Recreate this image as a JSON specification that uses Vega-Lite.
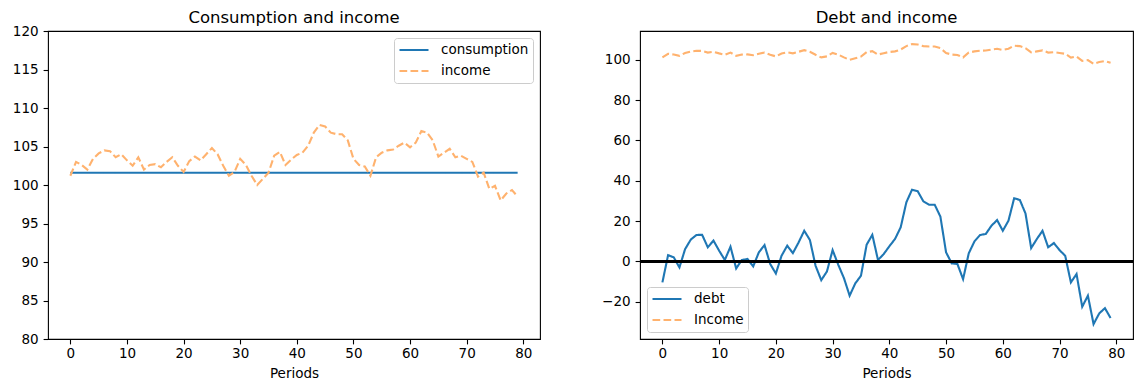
{
  "$schema": "https://vega.github.io/schema/vega-lite/v6.json",
  "padding": {"left": 7, "top": 8, "right": 5, "bottom": 5},
  "background": "white",
  "datasets": {
    "series": [
      {"t": 0, "consumption": 101.6, "income": 101.2, "debt": -10.4},
      {"t": 1, "consumption": 101.6, "income": 103.0, "debt": 3.1},
      {"t": 2, "consumption": 101.6, "income": 102.6, "debt": 2.0},
      {"t": 3, "consumption": 101.6, "income": 102.0, "debt": -3.0},
      {"t": 4, "consumption": 101.6, "income": 103.4, "debt": 6.1},
      {"t": 5, "consumption": 101.6, "income": 104.1, "debt": 10.8},
      {"t": 6, "consumption": 101.6, "income": 104.5, "debt": 13.1},
      {"t": 7, "consumption": 101.6, "income": 104.4, "debt": 13.2},
      {"t": 8, "consumption": 101.6, "income": 103.6, "debt": 7.0},
      {"t": 9, "consumption": 101.6, "income": 104.0, "debt": 10.3},
      {"t": 10, "consumption": 101.6, "income": 103.2, "debt": 5.3},
      {"t": 11, "consumption": 101.6, "income": 102.5, "debt": 0.7},
      {"t": 12, "consumption": 101.6, "income": 103.6, "debt": 7.3},
      {"t": 13, "consumption": 101.6, "income": 102.0, "debt": -3.5},
      {"t": 14, "consumption": 101.6, "income": 102.6, "debt": 0.7},
      {"t": 15, "consumption": 101.6, "income": 102.7, "debt": 1.2},
      {"t": 16, "consumption": 101.6, "income": 102.3, "debt": -2.5},
      {"t": 17, "consumption": 101.6, "income": 103.0, "debt": 4.5},
      {"t": 18, "consumption": 101.6, "income": 103.6, "debt": 8.1},
      {"t": 19, "consumption": 101.6, "income": 102.5, "debt": -1.3},
      {"t": 20, "consumption": 101.6, "income": 101.7, "debt": -6.0},
      {"t": 21, "consumption": 101.6, "income": 103.1, "debt": 2.8},
      {"t": 22, "consumption": 101.6, "income": 103.7, "debt": 7.8},
      {"t": 23, "consumption": 101.6, "income": 103.2, "debt": 4.1},
      {"t": 24, "consumption": 101.6, "income": 104.0, "debt": 9.4},
      {"t": 25, "consumption": 101.6, "income": 104.8, "debt": 15.2},
      {"t": 26, "consumption": 101.6, "income": 104.0, "debt": 10.6},
      {"t": 27, "consumption": 101.6, "income": 102.5, "debt": -2.2},
      {"t": 28, "consumption": 101.6, "income": 101.2, "debt": -9.3},
      {"t": 29, "consumption": 101.6, "income": 101.7, "debt": -5.0},
      {"t": 30, "consumption": 101.6, "income": 103.4, "debt": 5.6},
      {"t": 31, "consumption": 101.6, "income": 102.6, "debt": -1.7},
      {"t": 32, "consumption": 101.6, "income": 101.2, "debt": -8.3},
      {"t": 33, "consumption": 101.6, "income": 100.0, "debt": -17.0},
      {"t": 34, "consumption": 101.6, "income": 100.8, "debt": -10.9},
      {"t": 35, "consumption": 101.6, "income": 101.6, "debt": -7.1},
      {"t": 36, "consumption": 101.6, "income": 103.8, "debt": 8.3},
      {"t": 37, "consumption": 101.6, "income": 104.3, "debt": 13.2},
      {"t": 38, "consumption": 101.6, "income": 102.6, "debt": 0.7},
      {"t": 39, "consumption": 101.6, "income": 103.3, "debt": 3.6},
      {"t": 40, "consumption": 101.6, "income": 103.9, "debt": 7.5},
      {"t": 41, "consumption": 101.6, "income": 104.2, "debt": 11.1},
      {"t": 42, "consumption": 101.6, "income": 105.1, "debt": 16.9},
      {"t": 43, "consumption": 101.6, "income": 106.8, "debt": 29.3},
      {"t": 44, "consumption": 101.6, "income": 107.8, "debt": 35.6},
      {"t": 45, "consumption": 101.6, "income": 107.6, "debt": 34.8},
      {"t": 46, "consumption": 101.6, "income": 106.8, "debt": 29.8},
      {"t": 47, "consumption": 101.6, "income": 106.6, "debt": 28.1},
      {"t": 48, "consumption": 101.6, "income": 106.6, "debt": 28.1},
      {"t": 49, "consumption": 101.6, "income": 105.8, "debt": 22.2},
      {"t": 50, "consumption": 101.6, "income": 103.4, "debt": 4.5},
      {"t": 51, "consumption": 101.6, "income": 102.6, "debt": -1.0},
      {"t": 52, "consumption": 101.6, "income": 102.4, "debt": -1.3},
      {"t": 53, "consumption": 101.6, "income": 101.2, "debt": -8.8},
      {"t": 54, "consumption": 101.6, "income": 103.6, "debt": 4.0},
      {"t": 55, "consumption": 101.6, "income": 104.2, "debt": 9.9},
      {"t": 56, "consumption": 101.6, "income": 104.5, "debt": 13.1},
      {"t": 57, "consumption": 101.6, "income": 104.6, "debt": 13.6},
      {"t": 58, "consumption": 101.6, "income": 105.1, "debt": 17.7},
      {"t": 59, "consumption": 101.6, "income": 105.5, "debt": 20.5},
      {"t": 60, "consumption": 101.6, "income": 104.9, "debt": 15.2},
      {"t": 61, "consumption": 101.6, "income": 105.5, "debt": 20.2},
      {"t": 62, "consumption": 101.6, "income": 107.0, "debt": 31.3},
      {"t": 63, "consumption": 101.6, "income": 106.8, "debt": 30.5},
      {"t": 64, "consumption": 101.6, "income": 105.8, "debt": 23.8},
      {"t": 65, "consumption": 101.6, "income": 103.7, "debt": 6.6},
      {"t": 66, "consumption": 101.6, "income": 104.2, "debt": 11.1},
      {"t": 67, "consumption": 101.6, "income": 104.7, "debt": 15.2},
      {"t": 68, "consumption": 101.6, "income": 103.6, "debt": 7.0},
      {"t": 69, "consumption": 101.6, "income": 103.8, "debt": 9.1},
      {"t": 70, "consumption": 101.6, "income": 103.4, "debt": 5.6},
      {"t": 71, "consumption": 101.6, "income": 103.0, "debt": 2.8},
      {"t": 72, "consumption": 101.6, "income": 101.1, "debt": -10.4},
      {"t": 73, "consumption": 101.6, "income": 101.6, "debt": -6.3},
      {"t": 74, "consumption": 101.6, "income": 99.5, "debt": -22.5},
      {"t": 75, "consumption": 101.6, "income": 99.9, "debt": -17.0},
      {"t": 76, "consumption": 101.6, "income": 98.0, "debt": -31.1},
      {"t": 77, "consumption": 101.6, "income": 98.9, "debt": -25.8},
      {"t": 78, "consumption": 101.6, "income": 99.35, "debt": -23.2},
      {"t": 79, "consumption": 101.6, "income": 98.5, "debt": -28.1}
    ]
  },
  "config": {
    "font": "DejaVu Sans",
    "view": {"stroke": "black", "strokeWidth": 1.1},
    "axis": {
      "grid": false,
      "domain": false,
      "labelFont": "DejaVu Sans",
      "labelFontSize": 13.5,
      "labelColor": "black",
      "tickColor": "black",
      "tickSize": 4.9,
      "tickWidth": 1.1,
      "titleFont": "DejaVu Sans",
      "titleFontSize": 13.5,
      "titleFontWeight": "normal",
      "titleColor": "black"
    },
    "axisX": {"labelPadding": 3, "titlePadding": 6},
    "axisY": {"labelPadding": 5},
    "title": {"font": "DejaVu Sans", "fontSize": 16.5, "fontWeight": "normal", "color": "black", "offset": 5, "frame": "group"},
    "legend": {
      "title": null,
      "labelFont": "DejaVu Sans",
      "labelFontSize": 13.5,
      "labelColor": "black",
      "fillColor": "white",
      "strokeColor": "#cccccc",
      "cornerRadius": 3,
      "padding": 4,
      "offset": 7,
      "symbolType": "stroke",
      "symbolSize": 841,
      "symbolStrokeWidth": 2.1,
      "labelOffset": 11,
      "clipHeight": 16,
      "rowPadding": 5
    }
  },
  "resolve": {
    "scale": {"color": "independent", "strokeDash": "independent"},
    "legend": {"color": "independent", "strokeDash": "independent"}
  },
  "spacing": 58,
  "hconcat": [
    {
      "title": {"text": "Consumption and income", "offset": -2},
      "width": 492,
      "height": 308,
      "data": {"name": "series"},
      "transform": [{"fold": ["consumption", "income"], "as": ["series", "value"]}],
      "mark": {"type": "line", "strokeWidth": 2.1},
      "encoding": {
        "x": {"field": "t", "type": "quantitative", "title": "Periods",
              "scale": {"domain": [-3.95, 82.95], "nice": false, "zero": false},
              "axis": {"values": [0, 10, 20, 30, 40, 50, 60, 70, 80]}},
        "y": {"field": "value", "type": "quantitative", "title": null,
              "scale": {"domain": [80, 120], "nice": false, "zero": false},
              "axis": {"values": [80, 85, 90, 95, 100, 105, 110, 115, 120], "minExtent": 40, "maxExtent": 40}},
        "color": {"field": "series", "type": "nominal",
                  "scale": {"domain": ["consumption", "income"], "range": ["#1f77b4", "#ffb26e"]},
                  "legend": {"orient": "top-right"}},
        "strokeDash": {"field": "series", "type": "nominal",
                  "scale": {"domain": ["consumption", "income"], "range": [[1, 0], [7.7, 3.3]]},
                  "legend": {"orient": "top-right"}}
      }
    },
    {
      "title": {"text": "Debt and income", "offset": 5},
      "width": 493,
      "height": 308,
      "data": {"name": "series"},
      "layer": [
        {
          "transform": [{"fold": ["debt", "income"], "as": ["series", "value"]}],
          "mark": {"type": "line", "strokeWidth": 2.1},
          "encoding": {
            "x": {"field": "t", "type": "quantitative", "title": "Periods",
                  "scale": {"domain": [-3.95, 82.95], "nice": false, "zero": false},
                  "axis": {"values": [0, 10, 20, 30, 40, 50, 60, 70, 80]}},
            "y": {"field": "value", "type": "quantitative", "title": null,
                  "scale": {"domain": [-38.5, 114.3], "nice": false, "zero": false},
                  "axis": {"values": [-20, 0, 20, 40, 60, 80, 100], "minExtent": 40, "maxExtent": 40}},
            "color": {"field": "series", "type": "nominal",
                      "scale": {"domain": ["debt", "income"], "range": ["#1f77b4", "#ffb26e"]},
                      "legend": {"orient": "bottom-left", "labelExpr": "datum.label == 'income' ? 'Income' : datum.label"}},
            "strokeDash": {"field": "series", "type": "nominal",
                      "scale": {"domain": ["debt", "income"], "range": [[1, 0], [7.7, 3.3]]},
                      "legend": {"orient": "bottom-left", "labelExpr": "datum.label == 'income' ? 'Income' : datum.label"}}
          }
        },
        {
          "mark": {"type": "rule", "color": "black", "strokeWidth": 2},
          "encoding": {"y": {"datum": 0}}
        }
      ]
    }
  ]
}
